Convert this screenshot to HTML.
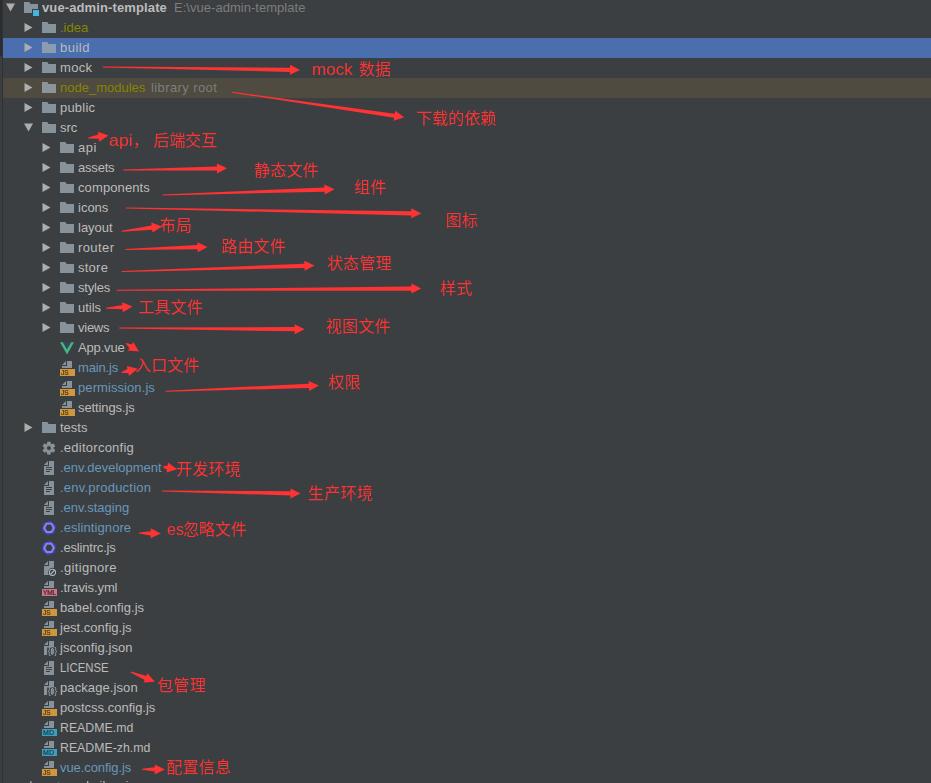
<!DOCTYPE html>
<html lang="zh-CN"><head><meta charset="utf-8"><title>vue-admin-template</title>
<style>
html,body{margin:0;padding:0;background:#3c3f41;}
body{width:931px;height:783px;overflow:hidden;position:relative;font-family:"Liberation Sans","Noto Sans CJK SC",sans-serif;font-size:13px;color:#bbbbbb;}
.strip{position:absolute;left:2px;top:0;width:1px;height:783px;background:#2f3133;}
.strip2{position:absolute;left:0;top:0;width:2px;height:56px;background:#2b2d2e;}
.row{position:absolute;left:3px;right:0;height:20px;}
.sel{background:#4b6eaf;}
.lib{background:#4f4b41;}
.t{position:absolute;top:0;height:20px;line-height:19px;white-space:pre;}
.t b{font-weight:bold;}
.g{color:#7d7d7d;}
svg.i{position:absolute;top:2px;width:16px;height:16px;overflow:visible;will-change:transform;}
svg.a{position:absolute;width:11px;height:11px;}
#ann{position:absolute;left:0;top:0;width:931px;height:783px;}
.n{position:absolute;color:#ff3333;font-family:"Liberation Sans","Noto Sans CJK SC",sans-serif;font-size:16px;line-height:20px;white-space:pre;font-weight:400;}
</style></head><body>
<div class="strip"></div><div class="strip2"></div>
<div class="row" style="top:-2px"><svg class="a" style="left:2px;top:4px" viewBox="0 0 11 11"><polygon points="1,1.5 10,1.5 5.5,9.5" fill="#adadad"/></svg><svg class="i" style="left:20px" viewBox="0 0 16 16"><path fill="#9AA7B0" fill-opacity=".8" d="M1,13 L9,13 L9,9 L15,9 L15,4 L7.6,4 L6.4,2 L1,2 Z"/><rect x="10" y="10" width="6" height="6" fill="#40B6E0"/></svg><span class="t" style="left:39px;color:#bbbbbb;letter-spacing:0.118px"><b>vue-admin-template</b></span><span class="t g" style="left:171px;letter-spacing:0.030px">E:&#92;vue-admin-template</span></div>
<div class="row" style="top:18px"><svg class="a" style="left:20px;top:4px" viewBox="0 0 11 11"><polygon points="1.5,1 9.5,5.5 1.5,10" fill="#adadad"/></svg><svg class="i" style="left:38px" viewBox="0 0 16 16"><path fill="#9AA7B0" fill-opacity=".8" d="M1,13 L15,13 L15,4 L7.6,4 L6.4,2 L1,2 Z"/></svg><span class="t" style="left:57px;color:#848504;letter-spacing:0.000px">.idea</span></div>
<div class="row sel" style="top:38px"><svg class="a" style="left:20px;top:4px" viewBox="0 0 11 11"><polygon points="1.5,1 9.5,5.5 1.5,10" fill="#adadad"/></svg><svg class="i" style="left:38px" viewBox="0 0 16 16"><path fill="#9AA7B0" fill-opacity=".8" d="M1,13 L15,13 L15,4 L7.6,4 L6.4,2 L1,2 Z"/></svg><span class="t" style="left:57px;color:#bbbbbb;letter-spacing:0.500px">build</span></div>
<div class="row" style="top:58px"><svg class="a" style="left:20px;top:4px" viewBox="0 0 11 11"><polygon points="1.5,1 9.5,5.5 1.5,10" fill="#adadad"/></svg><svg class="i" style="left:38px" viewBox="0 0 16 16"><path fill="#9AA7B0" fill-opacity=".8" d="M1,13 L15,13 L15,4 L7.6,4 L6.4,2 L1,2 Z"/></svg><span class="t" style="left:57px;color:#bbbbbb;letter-spacing:0.333px">mock</span></div>
<div class="row lib" style="top:78px"><svg class="a" style="left:20px;top:4px" viewBox="0 0 11 11"><polygon points="1.5,1 9.5,5.5 1.5,10" fill="#adadad"/></svg><svg class="i" style="left:38px" viewBox="0 0 16 16"><path fill="#9AA7B0" fill-opacity=".8" d="M1,13 L15,13 L15,4 L7.6,4 L6.4,2 L1,2 Z"/></svg><span class="t" style="left:57px;color:#848504;letter-spacing:0.000px">node_modules</span><span class="t g" style="left:148px;letter-spacing:0.400px">library root</span></div>
<div class="row" style="top:98px"><svg class="a" style="left:20px;top:4px" viewBox="0 0 11 11"><polygon points="1.5,1 9.5,5.5 1.5,10" fill="#adadad"/></svg><svg class="i" style="left:38px" viewBox="0 0 16 16"><path fill="#9AA7B0" fill-opacity=".8" d="M1,13 L15,13 L15,4 L7.6,4 L6.4,2 L1,2 Z"/></svg><span class="t" style="left:57px;color:#bbbbbb;letter-spacing:0.200px">public</span></div>
<div class="row" style="top:118px"><svg class="a" style="left:20px;top:4px" viewBox="0 0 11 11"><polygon points="1,1.5 10,1.5 5.5,9.5" fill="#adadad"/></svg><svg class="i" style="left:38px" viewBox="0 0 16 16"><path fill="#9AA7B0" fill-opacity=".8" d="M1,13 L15,13 L15,4 L7.6,4 L6.4,2 L1,2 Z"/></svg><span class="t" style="left:57px;color:#bbbbbb;letter-spacing:0.000px">src</span></div>
<div class="row" style="top:138px"><svg class="a" style="left:38px;top:4px" viewBox="0 0 11 11"><polygon points="1.5,1 9.5,5.5 1.5,10" fill="#adadad"/></svg><svg class="i" style="left:56px" viewBox="0 0 16 16"><path fill="#9AA7B0" fill-opacity=".8" d="M1,13 L15,13 L15,4 L7.6,4 L6.4,2 L1,2 Z"/></svg><span class="t" style="left:75px;color:#bbbbbb;letter-spacing:0.500px">api</span></div>
<div class="row" style="top:158px"><svg class="a" style="left:38px;top:4px" viewBox="0 0 11 11"><polygon points="1.5,1 9.5,5.5 1.5,10" fill="#adadad"/></svg><svg class="i" style="left:56px" viewBox="0 0 16 16"><path fill="#9AA7B0" fill-opacity=".8" d="M1,13 L15,13 L15,4 L7.6,4 L6.4,2 L1,2 Z"/></svg><span class="t" style="left:75px;color:#bbbbbb;letter-spacing:-0.200px">assets</span></div>
<div class="row" style="top:178px"><svg class="a" style="left:38px;top:4px" viewBox="0 0 11 11"><polygon points="1.5,1 9.5,5.5 1.5,10" fill="#adadad"/></svg><svg class="i" style="left:56px" viewBox="0 0 16 16"><path fill="#9AA7B0" fill-opacity=".8" d="M1,13 L15,13 L15,4 L7.6,4 L6.4,2 L1,2 Z"/></svg><span class="t" style="left:75px;color:#bbbbbb;letter-spacing:0.111px">components</span></div>
<div class="row" style="top:198px"><svg class="a" style="left:38px;top:4px" viewBox="0 0 11 11"><polygon points="1.5,1 9.5,5.5 1.5,10" fill="#adadad"/></svg><svg class="i" style="left:56px" viewBox="0 0 16 16"><path fill="#9AA7B0" fill-opacity=".8" d="M1,13 L15,13 L15,4 L7.6,4 L6.4,2 L1,2 Z"/></svg><span class="t" style="left:75px;color:#bbbbbb;letter-spacing:0.000px">icons</span></div>
<div class="row" style="top:218px"><svg class="a" style="left:38px;top:4px" viewBox="0 0 11 11"><polygon points="1.5,1 9.5,5.5 1.5,10" fill="#adadad"/></svg><svg class="i" style="left:56px" viewBox="0 0 16 16"><path fill="#9AA7B0" fill-opacity=".8" d="M1,13 L15,13 L15,4 L7.6,4 L6.4,2 L1,2 Z"/></svg><span class="t" style="left:75px;color:#bbbbbb;letter-spacing:0.000px">layout</span></div>
<div class="row" style="top:238px"><svg class="a" style="left:38px;top:4px" viewBox="0 0 11 11"><polygon points="1.5,1 9.5,5.5 1.5,10" fill="#adadad"/></svg><svg class="i" style="left:56px" viewBox="0 0 16 16"><path fill="#9AA7B0" fill-opacity=".8" d="M1,13 L15,13 L15,4 L7.6,4 L6.4,2 L1,2 Z"/></svg><span class="t" style="left:75px;color:#bbbbbb;letter-spacing:0.400px">router</span></div>
<div class="row" style="top:258px"><svg class="a" style="left:38px;top:4px" viewBox="0 0 11 11"><polygon points="1.5,1 9.5,5.5 1.5,10" fill="#adadad"/></svg><svg class="i" style="left:56px" viewBox="0 0 16 16"><path fill="#9AA7B0" fill-opacity=".8" d="M1,13 L15,13 L15,4 L7.6,4 L6.4,2 L1,2 Z"/></svg><span class="t" style="left:75px;color:#bbbbbb;letter-spacing:0.250px">store</span></div>
<div class="row" style="top:278px"><svg class="a" style="left:38px;top:4px" viewBox="0 0 11 11"><polygon points="1.5,1 9.5,5.5 1.5,10" fill="#adadad"/></svg><svg class="i" style="left:56px" viewBox="0 0 16 16"><path fill="#9AA7B0" fill-opacity=".8" d="M1,13 L15,13 L15,4 L7.6,4 L6.4,2 L1,2 Z"/></svg><span class="t" style="left:75px;color:#bbbbbb;letter-spacing:-0.200px">styles</span></div>
<div class="row" style="top:298px"><svg class="a" style="left:38px;top:4px" viewBox="0 0 11 11"><polygon points="1.5,1 9.5,5.5 1.5,10" fill="#adadad"/></svg><svg class="i" style="left:56px" viewBox="0 0 16 16"><path fill="#9AA7B0" fill-opacity=".8" d="M1,13 L15,13 L15,4 L7.6,4 L6.4,2 L1,2 Z"/></svg><span class="t" style="left:75px;color:#bbbbbb;letter-spacing:0.000px">utils</span></div>
<div class="row" style="top:318px"><svg class="a" style="left:38px;top:4px" viewBox="0 0 11 11"><polygon points="1.5,1 9.5,5.5 1.5,10" fill="#adadad"/></svg><svg class="i" style="left:56px" viewBox="0 0 16 16"><path fill="#9AA7B0" fill-opacity=".8" d="M1,13 L15,13 L15,4 L7.6,4 L6.4,2 L1,2 Z"/></svg><span class="t" style="left:75px;color:#bbbbbb;letter-spacing:-0.250px">views</span></div>
<div class="row" style="top:338px"><svg class="i" style="left:56px" viewBox="0 0 16 16"><polygon fill="#41B883" points="1,2.2 4,2.2 8,9.2 12,2.2 15,2.2 8,14.4"/><polygon fill="#35495E" points="4,2.2 6.6,2.2 8,4.7 9.4,2.2 12,2.2 8,9.2"/></svg><span class="t" style="left:75px;color:#bbbbbb;letter-spacing:-0.167px">App.vue</span></div>
<div class="row" style="top:358px"><svg class="i" style="left:56px" viewBox="0 0 16 16"><polygon fill="#9AA7B0" fill-opacity=".8" points="7 1 3 5 7 5"/><polygon fill="#9AA7B0" fill-opacity=".8" points="8 1 8 6 3 6 3 8 13 8 13 1"/><polygon fill="#F4AF3D" fill-opacity="0.8" points="1 16 16 16 16 9 1 9"/><text x="2.0" y="15" font-family="Liberation Sans, sans-serif" font-size="7" fill="#4a3410" stroke="#4a3410" stroke-width=".22" letter-spacing="0" textLength="7.6" lengthAdjust="spacingAndGlyphs">JS</text></svg><span class="t" style="left:75px;color:#6897bb;letter-spacing:-0.167px">main.js</span></div>
<div class="row" style="top:378px"><svg class="i" style="left:56px" viewBox="0 0 16 16"><polygon fill="#9AA7B0" fill-opacity=".8" points="7 1 3 5 7 5"/><polygon fill="#9AA7B0" fill-opacity=".8" points="8 1 8 6 3 6 3 8 13 8 13 1"/><polygon fill="#F4AF3D" fill-opacity="0.8" points="1 16 16 16 16 9 1 9"/><text x="2.0" y="15" font-family="Liberation Sans, sans-serif" font-size="7" fill="#4a3410" stroke="#4a3410" stroke-width=".22" letter-spacing="0" textLength="7.6" lengthAdjust="spacingAndGlyphs">JS</text></svg><span class="t" style="left:75px;color:#6897bb;letter-spacing:0.083px">permission.js</span></div>
<div class="row" style="top:398px"><svg class="i" style="left:56px" viewBox="0 0 16 16"><polygon fill="#9AA7B0" fill-opacity=".8" points="7 1 3 5 7 5"/><polygon fill="#9AA7B0" fill-opacity=".8" points="8 1 8 6 3 6 3 8 13 8 13 1"/><polygon fill="#F4AF3D" fill-opacity="0.8" points="1 16 16 16 16 9 1 9"/><text x="2.0" y="15" font-family="Liberation Sans, sans-serif" font-size="7" fill="#4a3410" stroke="#4a3410" stroke-width=".22" letter-spacing="0" textLength="7.6" lengthAdjust="spacingAndGlyphs">JS</text></svg><span class="t" style="left:75px;color:#bbbbbb;letter-spacing:-0.100px">settings.js</span></div>
<div class="row" style="top:418px"><svg class="a" style="left:20px;top:4px" viewBox="0 0 11 11"><polygon points="1.5,1 9.5,5.5 1.5,10" fill="#adadad"/></svg><svg class="i" style="left:38px" viewBox="0 0 16 16"><path fill="#9AA7B0" fill-opacity=".8" d="M1,13 L15,13 L15,4 L7.6,4 L6.4,2 L1,2 Z"/></svg><span class="t" style="left:57px;color:#bbbbbb;letter-spacing:0.000px">tests</span></div>
<div class="row" style="top:438px"><svg class="i" style="left:38px" viewBox="0 0 16 16"><path fill="#9AA7B0" fill-opacity=".8" stroke="#9AA7B0" stroke-opacity=".8" stroke-width=".6" stroke-linejoin="round" fill-rule="evenodd" d="M6.19,4.05 L6.53,1.95 L9.27,1.95 L9.61,4.05 L10.55,4.59 L12.54,3.84 L13.91,6.22 L12.27,7.56 L12.27,8.64 L13.91,9.98 L12.54,12.36 L10.55,11.61 L9.61,12.15 L9.27,14.25 L6.53,14.25 L6.19,12.15 L5.25,11.61 L3.26,12.36 L1.89,9.98 L3.53,8.64 L3.53,7.56 L1.89,6.22 L3.26,3.84 L5.25,4.59 Z M7.90,5.80 a2.3,2.3 0 1 0 0.01,0 Z"/></svg><span class="t" style="left:57px;color:#bbbbbb;letter-spacing:0.250px">.editorconfig</span></div>
<div class="row" style="top:458px"><svg class="i" style="left:38px" viewBox="0 0 16 16"><polygon fill="#9AA7B0" fill-opacity=".8" points="7 1 3 5 7 5"/><path fill="#9AA7B0" fill-opacity=".8" fill-rule="evenodd" d="M8,1 L8,6 L3,6 L3,15 L13,15 L13,1 Z M5,12 L9,12 L9,11 L5,11 Z M5,10 L11,10 L11,9 L5,9 Z M5,8 L11,8 L11,7 L5,7 Z"/></svg><span class="t" style="left:57px;color:#6897bb;letter-spacing:0.000px">.env.development</span></div>
<div class="row" style="top:478px"><svg class="i" style="left:38px" viewBox="0 0 16 16"><polygon fill="#9AA7B0" fill-opacity=".8" points="7 1 3 5 7 5"/><path fill="#9AA7B0" fill-opacity=".8" fill-rule="evenodd" d="M8,1 L8,6 L3,6 L3,15 L13,15 L13,1 Z M5,12 L9,12 L9,11 L5,11 Z M5,10 L11,10 L11,9 L5,9 Z M5,8 L11,8 L11,7 L5,7 Z"/></svg><span class="t" style="left:57px;color:#6897bb;letter-spacing:0.214px">.env.production</span></div>
<div class="row" style="top:498px"><svg class="i" style="left:38px" viewBox="0 0 16 16"><polygon fill="#9AA7B0" fill-opacity=".8" points="7 1 3 5 7 5"/><path fill="#9AA7B0" fill-opacity=".8" fill-rule="evenodd" d="M8,1 L8,6 L3,6 L3,15 L13,15 L13,1 Z M5,12 L9,12 L9,11 L5,11 Z M5,10 L11,10 L11,9 L5,9 Z M5,8 L11,8 L11,7 L5,7 Z"/></svg><span class="t" style="left:57px;color:#6897bb;letter-spacing:0.000px">.env.staging</span></div>
<div class="row" style="top:518px"><svg class="i" style="left:38px" viewBox="0 0 16 16"><polygon fill="#4343D2" points="9.27,0.81 14.86,5.50 13.59,12.69 6.73,15.19 1.14,10.50 2.41,3.31"/><path fill="#8787E2" fill-rule="evenodd" d="M14.00,7.90 L11.00,13.10 L5.00,13.10 L2.00,7.90 L5.00,2.70 L11.00,2.70 Z M11.50,7.90 L9.75,10.93 L6.25,10.93 L4.50,7.90 L6.25,4.87 L9.75,4.87 Z"/><polygon fill="#3c3f41" points="11.50,7.90 9.75,10.93 6.25,10.93 4.50,7.90 6.25,4.87 9.75,4.87"/></svg><span class="t" style="left:57px;color:#6897bb;letter-spacing:0.083px">.eslintignore</span></div>
<div class="row" style="top:538px"><svg class="i" style="left:38px" viewBox="0 0 16 16"><polygon fill="#4343D2" points="9.27,0.81 14.86,5.50 13.59,12.69 6.73,15.19 1.14,10.50 2.41,3.31"/><path fill="#8787E2" fill-rule="evenodd" d="M14.00,7.90 L11.00,13.10 L5.00,13.10 L2.00,7.90 L5.00,2.70 L11.00,2.70 Z M11.50,7.90 L9.75,10.93 L6.25,10.93 L4.50,7.90 L6.25,4.87 L9.75,4.87 Z"/><polygon fill="#3c3f41" points="11.50,7.90 9.75,10.93 6.25,10.93 4.50,7.90 6.25,4.87 9.75,4.87"/></svg><span class="t" style="left:57px;color:#bbbbbb;letter-spacing:-0.182px">.eslintrc.js</span></div>
<div class="row" style="top:558px"><svg class="i" style="left:38px" viewBox="0 0 16 16"><polygon fill="#9AA7B0" fill-opacity=".8" points="7 1 3 5 7 5"/><path fill="#9AA7B0" fill-opacity=".8" d="M8,1 L8,6 L3,6 L3,15 L8,15 A4.5,4.5 0 0 1 13,8.05 L13,1 Z"/><circle cx="11.45" cy="12.3" r="3.1" fill="none" stroke="#AEB8BF" stroke-width="1.1"/><line x1="9.4" y1="14.35" x2="13.5" y2="10.25" stroke="#AEB8BF" stroke-width="1.2"/></svg><span class="t" style="left:57px;color:#bbbbbb;letter-spacing:0.333px">.gitignore</span></div>
<div class="row" style="top:578px"><svg class="i" style="left:38px" viewBox="0 0 16 16"><polygon fill="#9AA7B0" fill-opacity=".8" points="7 1 3 5 7 5"/><polygon fill="#9AA7B0" fill-opacity=".8" points="8 1 8 6 3 6 3 8 13 8 13 1"/><polygon fill="#F98B9E" fill-opacity="0.74" points="1 16 16 16 16 9 1 9"/><text x="2.0" y="15" font-family="Liberation Sans, sans-serif" font-size="6.5" fill="#4f1f2b" stroke="#4f1f2b" stroke-width=".22" letter-spacing="-0.1">YML</text></svg><span class="t" style="left:57px;color:#bbbbbb;letter-spacing:-0.100px">.travis.yml</span></div>
<div class="row" style="top:598px"><svg class="i" style="left:38px" viewBox="0 0 16 16"><polygon fill="#9AA7B0" fill-opacity=".8" points="7 1 3 5 7 5"/><polygon fill="#9AA7B0" fill-opacity=".8" points="8 1 8 6 3 6 3 8 13 8 13 1"/><polygon fill="#F4AF3D" fill-opacity="0.8" points="1 16 16 16 16 9 1 9"/><text x="2.0" y="15" font-family="Liberation Sans, sans-serif" font-size="7" fill="#4a3410" stroke="#4a3410" stroke-width=".22" letter-spacing="0" textLength="7.6" lengthAdjust="spacingAndGlyphs">JS</text></svg><span class="t" style="left:57px;color:#bbbbbb;letter-spacing:0.071px">babel.config.js</span></div>
<div class="row" style="top:618px"><svg class="i" style="left:38px" viewBox="0 0 16 16"><polygon fill="#9AA7B0" fill-opacity=".8" points="7 1 3 5 7 5"/><polygon fill="#9AA7B0" fill-opacity=".8" points="8 1 8 6 3 6 3 8 13 8 13 1"/><polygon fill="#F4AF3D" fill-opacity="0.8" points="1 16 16 16 16 9 1 9"/><text x="2.0" y="15" font-family="Liberation Sans, sans-serif" font-size="7" fill="#4a3410" stroke="#4a3410" stroke-width=".22" letter-spacing="0" textLength="7.6" lengthAdjust="spacingAndGlyphs">JS</text></svg><span class="t" style="left:57px;color:#bbbbbb;letter-spacing:0.000px">jest.config.js</span></div>
<div class="row" style="top:638px"><svg class="i" style="left:38px" viewBox="0 0 16 16"><polygon fill="#9AA7B0" fill-opacity=".8" points="7 1 3 5 7 5"/><path fill="#9AA7B0" fill-opacity=".8" d="M8,1 L8,6 L3,6 L3,15 L6.1,15 L6.1,7.6 L13,7.6 L13,1 Z"/><text x="6.7" y="13.7" font-family="Liberation Sans, sans-serif" font-size="9" fill="#9DA8B0">{</text><text x="13.2" y="13.7" font-family="Liberation Sans, sans-serif" font-size="9" fill="#9DA8B0">}</text><ellipse cx="11.35" cy="11.4" rx="1.1" ry="3.3" fill="#6f7a82" stroke="#9DA8B0" stroke-width=".9"/></svg><span class="t" style="left:57px;color:#bbbbbb;letter-spacing:0.083px">jsconfig.json</span></div>
<div class="row" style="top:658px"><svg class="i" style="left:38px" viewBox="0 0 16 16"><polygon fill="#9AA7B0" fill-opacity=".8" points="7 1 3 5 7 5"/><path fill="#9AA7B0" fill-opacity=".8" fill-rule="evenodd" d="M8,1 L8,6 L3,6 L3,15 L13,15 L13,1 Z M5,12 L9,12 L9,11 L5,11 Z M5,10 L11,10 L11,9 L5,9 Z M5,8 L11,8 L11,7 L5,7 Z"/></svg><span class="t" style="left:57px;color:#bbbbbb;letter-spacing:0.000px;transform-origin:0 0;transform:scaleX(0.8751)">LICENSE</span></div>
<div class="row" style="top:678px"><svg class="i" style="left:38px" viewBox="0 0 16 16"><polygon fill="#9AA7B0" fill-opacity=".8" points="7 1 3 5 7 5"/><path fill="#9AA7B0" fill-opacity=".8" d="M8,1 L8,6 L3,6 L3,15 L6.1,15 L6.1,7.6 L13,7.6 L13,1 Z"/><text x="6.7" y="13.7" font-family="Liberation Sans, sans-serif" font-size="9" fill="#9DA8B0">{</text><text x="13.2" y="13.7" font-family="Liberation Sans, sans-serif" font-size="9" fill="#9DA8B0">}</text><ellipse cx="11.35" cy="11.4" rx="1.1" ry="3.3" fill="#6f7a82" stroke="#9DA8B0" stroke-width=".9"/></svg><span class="t" style="left:57px;color:#bbbbbb;letter-spacing:0.091px">package.json</span></div>
<div class="row" style="top:698px"><svg class="i" style="left:38px" viewBox="0 0 16 16"><polygon fill="#9AA7B0" fill-opacity=".8" points="7 1 3 5 7 5"/><polygon fill="#9AA7B0" fill-opacity=".8" points="8 1 8 6 3 6 3 8 13 8 13 1"/><polygon fill="#F4AF3D" fill-opacity="0.8" points="1 16 16 16 16 9 1 9"/><text x="2.0" y="15" font-family="Liberation Sans, sans-serif" font-size="7" fill="#4a3410" stroke="#4a3410" stroke-width=".22" letter-spacing="0" textLength="7.6" lengthAdjust="spacingAndGlyphs">JS</text></svg><span class="t" style="left:57px;color:#bbbbbb;letter-spacing:0.000px">postcss.config.js</span></div>
<div class="row" style="top:718px"><svg class="i" style="left:38px" viewBox="0 0 16 16"><polygon fill="#9AA7B0" fill-opacity=".8" points="7 1 3 5 7 5"/><polygon fill="#9AA7B0" fill-opacity=".8" points="8 1 8 6 3 6 3 8 13 8 13 1"/><polygon fill="#40B6E0" fill-opacity="0.8" points="1 16 16 16 16 9 1 9"/><text x="2.0" y="15" font-family="Liberation Sans, sans-serif" font-size="7" fill="#173f4e" stroke="#173f4e" stroke-width=".22" letter-spacing="0.1">MD</text></svg><span class="t" style="left:57px;color:#bbbbbb;letter-spacing:0.000px;transform-origin:0 0;transform:scaleX(0.9481)">README.md</span></div>
<div class="row" style="top:738px"><svg class="i" style="left:38px" viewBox="0 0 16 16"><polygon fill="#9AA7B0" fill-opacity=".8" points="7 1 3 5 7 5"/><polygon fill="#9AA7B0" fill-opacity=".8" points="8 1 8 6 3 6 3 8 13 8 13 1"/><polygon fill="#40B6E0" fill-opacity="0.8" points="1 16 16 16 16 9 1 9"/><text x="2.0" y="15" font-family="Liberation Sans, sans-serif" font-size="7" fill="#173f4e" stroke="#173f4e" stroke-width=".22" letter-spacing="0.1">MD</text></svg><span class="t" style="left:57px;color:#bbbbbb;letter-spacing:0.000px;transform-origin:0 0;transform:scaleX(0.9474)">README-zh.md</span></div>
<div class="row" style="top:758px"><svg class="i" style="left:38px" viewBox="0 0 16 16"><polygon fill="#9AA7B0" fill-opacity=".8" points="7 1 3 5 7 5"/><polygon fill="#9AA7B0" fill-opacity=".8" points="8 1 8 6 3 6 3 8 13 8 13 1"/><polygon fill="#F4AF3D" fill-opacity="0.8" points="1 16 16 16 16 9 1 9"/><text x="2.0" y="15" font-family="Liberation Sans, sans-serif" font-size="7" fill="#4a3410" stroke="#4a3410" stroke-width=".22" letter-spacing="0" textLength="7.6" lengthAdjust="spacingAndGlyphs">JS</text></svg><span class="t" style="left:57px;color:#6897bb;letter-spacing:-0.083px">vue.config.js</span></div>
<div class="row" style="top:778px"><svg class="a" style="left:2px;top:4px" viewBox="0 0 11 11"><polygon points="1.5,1 9.5,5.5 1.5,10" fill="#adadad"/></svg><svg class="i" style="left:20px" viewBox="0 0 16 16"><rect x="2" y="4" width="2" height="11" fill="#9AA7B0" fill-opacity=".8"/><rect x="4.6" y="4" width="1.8" height="11" fill="#9AA7B0" fill-opacity=".8"/><rect x="7" y="1.2" width="1.6" height="13.8" fill="#9AA7B0" fill-opacity=".9"/><polygon points="9.6,4.6 11.4,4 14.6,14.4 12.8,15" fill="#9AA7B0" fill-opacity=".8"/></svg><span class="t" style="left:39px;color:#bbbbbb;letter-spacing:0.000px;top:-2px"><span style="font-size:8.5px;margin-right:2.5px">E</span>x<span style="font-size:11px;margin-right:.5px">t</span>ernal <span style="font-size:8.5px;margin-right:2.1px">L</span>ibraries</span></div>
<svg id="ann" viewBox="0 0 931 783"><polygon fill="#ff3333" points="102.7,67.4 290.0,71.9 289.9,74.8 300.0,70.0 290.1,64.8 290.0,67.7 102.7,66.4"/><polygon fill="#ff3333" points="232.1,92.7 394.1,117.8 393.7,120.7 404.3,117.2 395.1,110.8 394.7,113.7 232.3,91.7"/><polygon fill="#ff3333" points="88.4,138.4 98.8,138.8 99.1,141.7 108.5,135.6 98.0,131.8 98.3,134.6 88.2,137.4"/><polygon fill="#ff3333" points="123.2,170.5 217.0,170.6 217.1,173.5 227.0,168.3 216.9,163.5 217.0,166.4 123.2,169.5"/><polygon fill="#ff3333" points="162.5,195.4 324.6,191.7 324.7,194.6 334.5,189.3 324.3,184.6 324.4,187.5 162.5,194.4"/><polygon fill="#ff3333" points="125.9,208.5 411.3,215.4 411.2,218.3 421.3,213.5 411.4,208.3 411.3,211.2 125.9,207.5"/><polygon fill="#ff3333" points="121.8,231.7 152.1,229.7 152.5,232.6 161.8,226.4 151.3,222.6 151.6,225.5 121.6,230.7"/><polygon fill="#ff3333" points="125.4,249.9 197.6,249.3 197.7,252.2 207.5,246.9 197.4,242.2 197.4,245.1 125.4,248.9"/><polygon fill="#ff3333" points="121.7,272.1 304.6,267.9 304.7,270.8 314.5,265.5 304.3,260.8 304.4,263.7 121.7,271.1"/><polygon fill="#ff3333" points="116.7,290.8 411.3,290.7 411.3,293.6 421.3,288.5 411.3,283.6 411.3,286.5 116.7,289.8"/><polygon fill="#ff3333" points="106.1,308.8 122.7,309.3 122.8,312.2 132.5,306.6 122.2,302.3 122.4,305.1 106.1,307.8"/><polygon fill="#ff3333" points="119.2,328.6 294.6,331.3 294.6,334.2 304.6,329.3 294.6,324.2 294.6,327.1 119.2,327.6"/><polygon fill="#ff3333" points="125.8,343.8 129.4,348.0 127.9,350.5 139.0,351.6 133.2,342.0 131.7,344.5 126.4,343.0"/><polygon fill="#ff3333" points="121.7,372.9 128.4,373.0 129.0,375.9 137.7,368.8 126.8,366.1 127.5,368.9 121.5,371.9"/><polygon fill="#ff3333" points="165.6,391.7 309.0,388.0 309.1,390.9 318.9,385.5 308.7,380.9 308.8,383.8 165.6,390.7"/><polygon fill="#ff3333" points="163.1,467.4 167.0,469.7 166.5,472.5 177.2,469.2 168.1,462.6 167.7,465.5 163.3,466.4"/><polygon fill="#ff3333" points="162.0,491.5 290.5,495.5 290.4,498.4 300.5,493.6 290.6,488.4 290.5,491.3 162.0,490.5"/><polygon fill="#ff3333" points="139.1,533.5 150.6,535.4 150.6,538.3 160.7,533.6 150.8,528.3 150.8,531.2 139.1,532.5"/><polygon fill="#ff3333" points="130.7,672.6 144.7,679.9 143.7,682.6 154.8,681.7 147.4,673.3 146.3,676.0 131.1,671.6"/><polygon fill="#ff3333" points="142.2,769.7 154.8,771.5 154.7,774.4 164.8,769.6 154.9,764.4 154.8,767.3 142.2,768.7"/></svg>
<div class="n" style="left:0;top:60.20px"><span style="position:absolute;left:311.63px;transform-origin:0 0;transform:scaleX(1.0684)">mock </span><span style="position:absolute;left:359.00px">数据</span></div>
<div class="n" style="left:0;top:108.55px"><span style="position:absolute;left:416.20px;letter-spacing:0.075px">下载的依赖</span></div>
<div class="n" style="left:0;top:130.80px"><span style="position:absolute;left:109.49px;transform-origin:0 0;transform:scaleX(1.1100)">api</span><span style="position:absolute;left:132.90px">， </span><span style="position:absolute;left:153.50px;letter-spacing:-0.067px">后端交互</span></div>
<div class="n" style="left:0;top:160.65px"><span style="position:absolute;left:254.30px;letter-spacing:0.167px">静态文件</span></div>
<div class="n" style="left:0;top:178.20px"><span style="position:absolute;left:354.25px;letter-spacing:0.300px">组件</span></div>
<div class="n" style="left:0;top:211.25px"><span style="position:absolute;left:445.75px;letter-spacing:0.300px">图标</span></div>
<div class="n" style="left:0;top:216.20px"><span style="position:absolute;left:159.80px;letter-spacing:0.300px">布局</span></div>
<div class="n" style="left:0;top:237.10px"><span style="position:absolute;left:221.60px;letter-spacing:0.133px">路由文件</span></div>
<div class="n" style="left:0;top:254.00px"><span style="position:absolute;left:327.20px;letter-spacing:0.167px">状态管理</span></div>
<div class="n" style="left:0;top:278.55px"><span style="position:absolute;left:440.25px;letter-spacing:0.300px">样式</span></div>
<div class="n" style="left:0;top:297.85px"><span style="position:absolute;left:138.40px;letter-spacing:0.233px">工具文件</span></div>
<div class="n" style="left:0;top:316.95px"><span style="position:absolute;left:325.90px;letter-spacing:0.267px">视图文件</span></div>
<div class="n" style="left:0;top:356.35px"><span style="position:absolute;left:135.30px;letter-spacing:0.133px">入口文件</span></div>
<div class="n" style="left:0;top:372.90px"><span style="position:absolute;left:328.45px;letter-spacing:0.300px">权限</span></div>
<div class="n" style="left:0;top:459.95px"><span style="position:absolute;left:176.20px;letter-spacing:0.267px">开发环境</span></div>
<div class="n" style="left:0;top:483.55px"><span style="position:absolute;left:308.10px;letter-spacing:0.300px">生产环境</span></div>
<div class="n" style="left:0;top:520.15px"><span style="position:absolute;left:166.69px;transform-origin:0 0;transform:scaleX(1.0063)">es</span><span style="position:absolute;left:183.20px;letter-spacing:-0.067px">忽略文件</span></div>
<div class="n" style="left:0;top:675.95px"><span style="position:absolute;left:157.30px;letter-spacing:0.300px">包管理</span></div>
<div class="n" style="left:0;top:757.85px"><span style="position:absolute;left:166.50px;letter-spacing:0.267px">配置信息</span></div>
</body></html>
